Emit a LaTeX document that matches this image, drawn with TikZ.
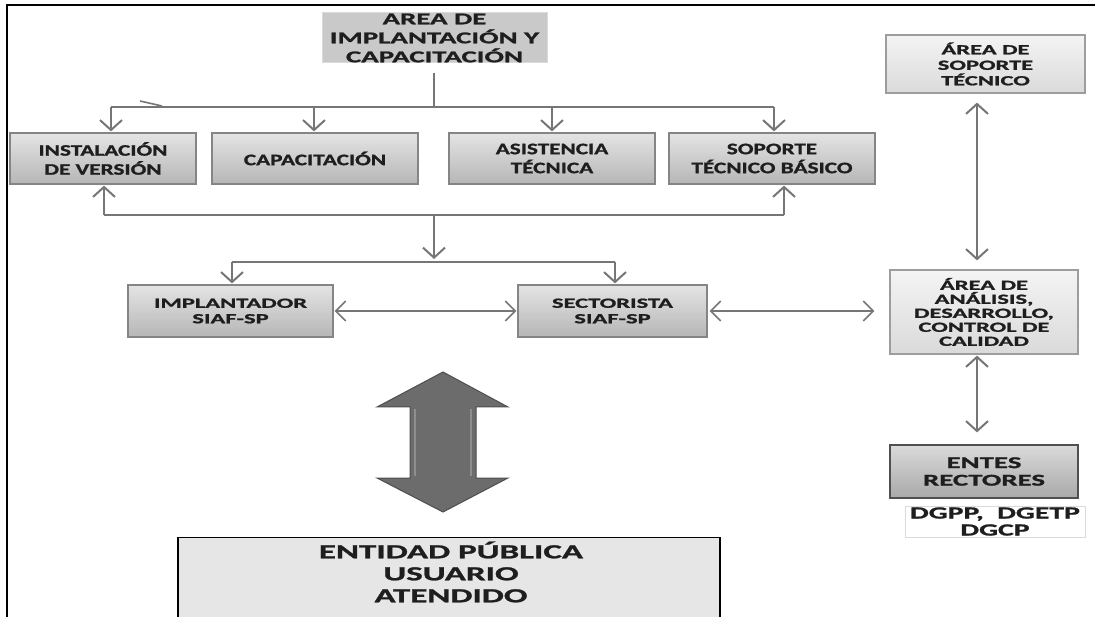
\documentclass[tikz,border=0pt]{standalone}
\usepackage{fontspec}
\setmainfont{Carlito}
\newfontfamily\fRow{Carlito}[FakeStretch=1.45, BoldFeatures={FakeBold=1.3}]
\newfontfamily\fWide{Carlito}[FakeStretch=1.75, BoldFeatures={FakeBold=1.3}]
\usetikzlibrary{arrows.meta}
\definecolor{connc}{HTML}{767676}
\definecolor{bordA}{HTML}{858585}
\definecolor{rowT}{HTML}{E4E4E4}
\definecolor{rowB}{HTML}{B6B6B6}
\definecolor{topF}{HTML}{C9C9C9}
\definecolor{lightT}{HTML}{F4F4F4}
\definecolor{lightB}{HTML}{DADADA}
\definecolor{entT}{HTML}{DADADA}
\definecolor{entB}{HTML}{A9A9A9}
\definecolor{bigF}{HTML}{6C6C6C}
\definecolor{bigD}{HTML}{4E4E4E}
\definecolor{bigL}{HTML}{8E8E8E}
\definecolor{pubF}{HTML}{E6E6E6}
\definecolor{txt}{HTML}{1E1E1E}
\begin{document}
\begin{tikzpicture}[x=1pt,y=-1pt,
  rowbox/.style={rectangle, draw=bordA, line width=1.2pt, top color=rowT, bottom color=rowB,
    inner sep=0pt, align=center, text=txt, minimum height=51pt,
    font=\fRow\bfseries\fontsize{16}{19}\selectfont},
  midbox/.style={rowbox, minimum height=52pt, font=\fWide\bfseries\fontsize{14}{15.5}\selectfont},
  topbox/.style={rectangle, draw=lightB, line width=1pt, fill=topF, inner sep=0pt, align=center, text=txt,
    font=\fWide\bfseries\fontsize{16.5}{19}\selectfont},
  sidebox/.style={rectangle, draw=bordA!80, line width=1.2pt, top color=lightT, bottom color=lightB,
    inner sep=0pt, align=center, text=txt, font=\fWide\bfseries\fontsize{14}{15.5}\selectfont},
  entesbox/.style={rectangle, draw=bordA!60!black, line width=1.2pt, top color=entT, bottom color=entB,
    inner sep=0pt, align=center, text=txt, font=\fWide\bfseries\fontsize{16.5}{17.5}\selectfont},
  dgbox/.style={rectangle, draw=lightB, line width=1pt, fill=white, inner sep=0pt, align=center, text=txt,
    font=\fWide\bfseries\fontsize{17}{17}\selectfont},
  pubbox/.style={rectangle, draw=black, line width=1.4pt, fill=pubF, inner sep=0pt},
  pubtext/.style={inner sep=0pt, align=center, text=txt, font=\fWide\bfseries\fontsize{20}{22}\selectfont},
  gline/.style={draw=connc, line width=2.2pt},
  garr/.style={gline, -{Straight Barb[length=10pt,width=22pt,line width=2pt]}},
  gdarr/.style={gline, {Straight Barb[length=10pt,width=22pt,line width=2pt]}-{Straight Barb[length=10pt,width=22pt,line width=2pt]}},
  hdarr/.style={draw=connc, line width=1.6pt, {Straight Barb[length=10pt,width=20pt,line width=1.6pt]}-{Straight Barb[length=10pt,width=20pt,line width=1.6pt]}},
]
\useasboundingbox (0,0) rectangle (1095,617);
% frame
\draw[line width=2pt, black] (7,617) -- (7,5) -- (1095,5);

% top box
\node[topbox, minimum width=225pt, minimum height=50pt] (top) at (434.5,38) {AREA DE\\IMPLANTACIÓN Y\\CAPACITACIÓN};

% row 1
\node[rowbox, minimum width=186pt] (inst) at (103,158.5) {INSTALACIÓN\\DE VERSIÓN};
\node[rowbox, minimum width=206pt] (cap) at (315,158.5) {CAPACITACIÓN};
\node[rowbox, minimum width=206pt] (asis) at (552,158.5) {ASISTENCIA\\TÉCNICA};
\node[rowbox, minimum width=206pt] (sop) at (772,158.5) {SOPORTE\\TÉCNICO BÁSICO};

% row 2
\node[midbox, minimum width=205pt] (impl) at (230.5,311) {IMPLANTADOR\\SIAF-SP};
\node[midbox, minimum width=189pt] (sect) at (612.5,311) {SECTORISTA\\SIAF-SP};

% right column
\node[sidebox, minimum width=199pt, minimum height=58pt] (soptec) at (985.5,64) {ÁREA DE\\SOPORTE\\TÉCNICO};
\node[sidebox, minimum width=188pt, minimum height=84pt, font=\fWide\bfseries\fontsize{14}{14}\selectfont] (anal) at (984,312) {ÁREA DE\\ANÁLISIS,\\DESARROLLO,\\CONTROL DE\\CALIDAD};
\node[entesbox, minimum width=188pt, minimum height=53pt] (entes) at (984,471.5) {ENTES\\RECTORES};
\node[dgbox, minimum width=180pt, minimum height=31pt] (dg) at (995,521.5) {DGPP,\ \ DGETP\\DGCP};

% public entity
\node[pubbox, minimum width=542pt, minimum height=88pt, anchor=north] (pub) at (449,537) {};
\node[pubtext] (pubt) at (451,572) {ENTIDAD PÚBLICA\\USUARIO\\ATENDIDO};

% coordinates for buses
\coordinate (t0) at (434,73);
\coordinate (b1) at (434,107);
\coordinate (bL) at (111,107);
\coordinate (bR) at (774,107);
\coordinate (c1) at (314,107);
\coordinate (c2) at (552,107);
\coordinate (lL) at (104,215);
\coordinate (lR) at (784,215);
\coordinate (lM) at (434,215);
\coordinate (m1) at (434,262);
\coordinate (mL) at (232,262);
\coordinate (mR) at (615,262);
\coordinate (rx) at (977,0);

% upper bus
\draw[gline] (t0) -- (b1);
\draw[gline] (bL) -- (bR);
\draw[garr, shorten >=1pt] (bL) -- (bL |- inst.north);
\draw[garr, shorten >=1pt] (c1) -- (c1 |- cap.north);
\draw[garr, shorten >=1pt] (c2) -- (c2 |- asis.north);
\draw[garr, shorten >=1pt] (bR) -- (bR |- sop.north);
% stray mark
\draw[draw=connc, line width=1.6pt] (140,101) -- (162,106);

% lower bus
\draw[gline] (lL) -- (lR);
\draw[garr, shorten >=1pt] (lL) -- (lL |- inst.south);
\draw[garr, shorten >=1pt] (lR) -- (lR |- sop.south);
\draw[garr, shorten >=3pt] (lM) -- (m1);
\draw[gline] (mL) -- (mR);
\draw[garr, shorten >=1pt] (mL) -- (mL |- impl.north);
\draw[garr, shorten >=1pt] (mR) -- (mR |- sect.north);

% horizontal double arrows
\draw[hdarr, shorten <=1pt, shorten >=1pt] (impl.east) -- (sect.west);
\draw[hdarr, shorten <=2pt, shorten >=15pt] (sect.east) -- (anal.west |- sect.east);

% right vertical double arrows
\draw[gdarr, shorten <=9pt, shorten >=9pt] (soptec.south -| rx) -- (anal.north -| rx);
\draw[gdarr, shorten <=1pt, shorten >=12pt] (anal.south -| rx) -- (entes.north -| rx);

% big double arrow
\draw[fill=bigF, draw=bigD, line width=1pt] (443,372) -- (508,407) -- (476,407) -- (476,478) -- (508,478) -- (443,512) -- (377,478) -- (410,478) -- (410,407) -- (377,407) -- cycle;
\draw[draw=bigL, line width=1.2pt] (415,409) -- (415,476);
\draw[draw=bigL, line width=1.2pt] (471,409) -- (471,476);
\end{tikzpicture}
\end{document}
